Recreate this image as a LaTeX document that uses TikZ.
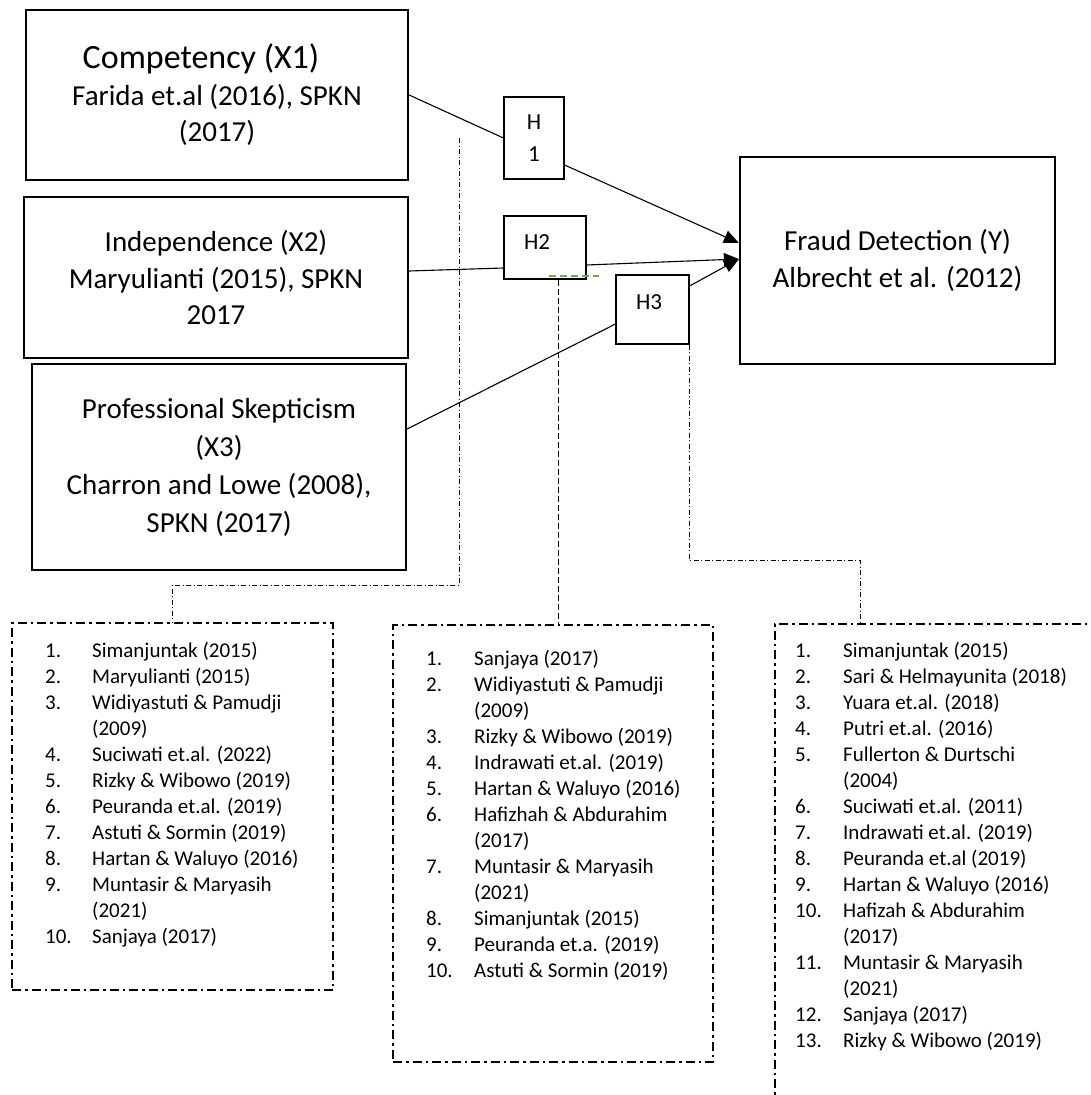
\documentclass[tikz,border=0pt]{standalone}
\usepackage{fontspec}
\setmainfont{Carlito}
\usetikzlibrary{arrows.meta, positioning}
\definecolor{hgreen}{HTML}{70AD47}

\begin{document}
\begin{tikzpicture}[x=1pt, y=-1pt,
  mainbox/.style={draw, line width=2.2pt, align=center, inner sep=0pt, font=\fontsize{29}{36.5}\selectfont},
  hbox/.style={draw, line width=1.1pt, inner sep=0pt, align=center, font=\fontsize{23}{32}\selectfont},
  htext/.style={inner sep=0pt, font=\fontsize{23}{32}\selectfont},
  link/.style={line width=1.1pt},
  arrowlink/.style={line width=1.1pt, -{Triangle[length=15pt,width=13pt]}},
  dotlink/.style={line width=0.8pt, dash pattern=on 5pt off 2.5pt on 1pt off 2.5pt},
  dashlink/.style={line width=0.9pt, dash pattern=on 6pt off 3pt},
  listbox/.style={draw, line width=2pt, dash pattern=on 9pt off 4pt on 2.5pt off 4pt, inner sep=0pt},
  listtext/.style={inner sep=0pt, anchor=base west, font=\fontsize{21}{26}\selectfont}
]
\useasboundingbox (0,0) rectangle (1091,1095);
\clip (0,0) rectangle (1091,1095);

% Variables
\node[mainbox, minimum width=382, minimum height=170] (x1) at (217,95) {{\fontsize{34}{36.5}\selectfont Competency (X1)}\hspace*{32pt}\\Farida et.al (2016), SPKN\\(2017)};
\node[mainbox, minimum width=384, minimum height=161] (x2) at (216,277.5) {Independence (X2)\\Maryulianti (2015), SPKN\\2017};
\node[mainbox, minimum width=374, minimum height=206, font=\fontsize{29}{38}\selectfont] (x3) at (219,467) {Professional Skepticism\\(X3)\\Charron and Lowe (2008),\\SPKN (2017)};
\node[mainbox, minimum width=315, minimum height=207] (fy) at (897.5,260.5) {Fraud Detection (Y)\\Albrecht et al. (2012)};

% Hypotheses
\node[hbox, minimum width=60, minimum height=82] (h1) at (534,138) {H\\1};
\node[hbox, minimum width=82, minimum height=63] (h2) at (545,247.5) {};
\node[htext] (h2l) at ([xshift=-8pt,yshift=5.5pt]h2.center) {H2};
\node[hbox, minimum width=73, minimum height=69] (h3) at (652.5,309.5) {};
\node[htext] (h3l) at ([xshift=-3.5pt,yshift=7.5pt]h3.center) {H3};
\draw[hgreen, line width=2pt, dash pattern=on 7pt off 4pt] ([xshift=4pt,yshift=4pt]h2.south) -- ([xshift=12pt,yshift=4pt]h2.south east);

% Paths
\draw[link] (x1.east) -- (h1.west);
\draw[arrowlink] ([yshift=-27pt]h1.east) -- ([yshift=17.5pt]fy.west);
\draw[link] ([yshift=6.5pt]x2.east) -- ([yshift=-20.5pt]h2.west);
\draw[arrowlink] ([yshift=-17.5pt]h2.east) -- ([yshift=1.5pt]fy.west);
\draw[link] ([yshift=38pt]x3.east) -- ([yshift=-14.5pt]h3.west);
\draw[arrowlink] ([yshift=23.5pt]h3.east) -- ([yshift=1.5pt]fy.west);

% Previous studies
\node[listbox, minimum width=321, minimum height=367] (lb1) at (172.5,806.5) {};
\node[listbox, minimum width=320, minimum height=437] (lb2) at (553,843.5) {};
\node[listbox, minimum width=400, minimum height=500, anchor=north west] (lb3) at (774,623) {};

\node[listtext] (li1) at (45,657) {\begin{tabular}[t]{@{}p{47pt}@{}l@{}}
1. & Simanjuntak (2015)\\
2. & Maryulianti (2015)\\
3. & Widiyastuti \& Pamudji\\
   & (2009)\\
4. & Suciwati et.al. (2022)\\
5. & Rizky \& Wibowo (2019)\\
6. & Peuranda et.al. (2019)\\
7. & Astuti \& Sormin (2019)\\
8. & Hartan \& Waluyo (2016)\\
9. & Muntasir \& Maryasih\\
   & (2021)\\
10. & Sanjaya (2017)
\end{tabular}};
\node[listtext] (li2) at (426,665) {\begin{tabular}[t]{@{}p{48pt}@{}l@{}}
1. & Sanjaya (2017)\\
2. & Widiyastuti \& Pamudji\\
   & (2009)\\
3. & Rizky \& Wibowo (2019)\\
4. & Indrawati et.al. (2019)\\
5. & Hartan \& Waluyo (2016)\\
6. & Hafizhah \& Abdurahim\\
   & (2017)\\
7. & Muntasir \& Maryasih\\
   & (2021)\\
8. & Simanjuntak (2015)\\
9. & Peuranda et.a. (2019)\\
10. & Astuti \& Sormin (2019)
\end{tabular}};
\node[listtext] (li3) at (795,657) {\begin{tabular}[t]{@{}p{48pt}@{}l@{}}
1. & Simanjuntak (2015)\\
2. & Sari \& Helmayunita (2018)\\
3. & Yuara et.al. (2018)\\
4. & Putri et.al. (2016)\\
5. & Fullerton \& Durtschi\\
   & (2004)\\
6. & Suciwati et.al. (2011)\\
7. & Indrawati et.al. (2019)\\
8. & Peuranda et.al (2019)\\
9. & Hartan \& Waluyo (2016)\\
10. & Hafizah \& Abdurahim\\
    & (2017)\\
11. & Muntasir \& Maryasih\\
    & (2021)\\
12. & Sanjaya (2017)\\
13. & Rizky \& Wibowo (2019)
\end{tabular}};

% Links to the lists
\coordinate (c1) at (459,138);
\draw[dotlink] (c1) -- ++(0,447) -| (lb1.north);
\draw[dashlink] ([xshift=13pt]h2.south) -- ([xshift=13pt]h2.south |- lb2.north);
\draw[dotlink] (h3.south east) -- ++(0,216) -| ([xshift=86pt]lb3.north west);
\end{tikzpicture}
\end{document}
